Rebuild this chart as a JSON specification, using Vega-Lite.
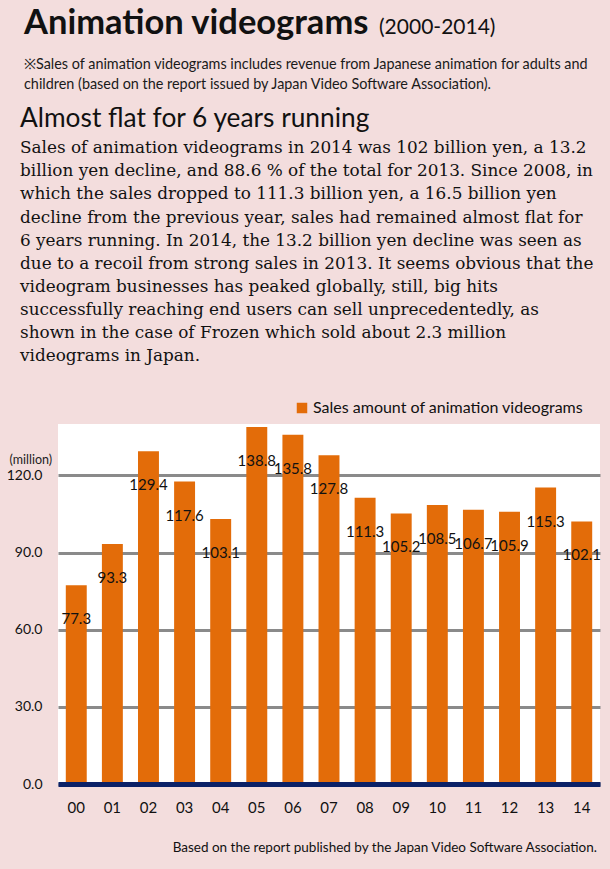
{
  "$schema": "https://vega.github.io/schema/vega-lite/v6.json",
  "background": "#f3dddd",
  "padding": {"left": 6, "top": 5, "right": 9, "bottom": 14},
  "bounds": "flush",
  "spacing": 0,
  "resolve": {"legend": {"color": "independent"}, "scale": {"color": "independent"}},
  "config": {
    "font": "Lato",
    "view": {"stroke": null}
  },
  "vconcat": [
    {
      "width": 542,
      "height": 1,
      "data": {"values": []},
      "mark": "text",
      "encoding": {},
      "title": {
        "text": "Animation videograms",
        "anchor": "start",
        "frame": "group",
        "orient": "top",
        "offset": 0,
        "dx": -34,
        "font": "Lato",
        "fontSize": 34.5,
        "fontWeight": "bold",
        "color": "#111111"
      }
    },
    {
      "width": 542,
      "height": 48,
      "data": {"values": []},
      "mark": "text",
      "encoding": {},
      "title": {
        "text": "(2000-2014)",
        "anchor": "start",
        "frame": "group",
        "orient": "top",
        "offset": 0,
        "dx": 321,
        "dy": -4,
        "font": "Lato",
        "fontSize": 21,
        "fontWeight": "normal",
        "color": "#111111"
      }
    },
    {
      "width": 542,
      "height": 274.4,
      "data": {"values": []},
      "mark": "text",
      "encoding": {},
      "title": {
        "text": [
          "※Sales of animation videograms includes revenue from Japanese animation for adults and",
          "children (based on the report issued by Japan Video Software Association)."
        ],
        "anchor": "start",
        "frame": "group",
        "orient": "top",
        "offset": 0,
        "dx": -34,
        "dy": 2,
        "font": "Lato",
        "fontSize": 14.4,
        "lineHeight": 19.5,
        "fontWeight": "normal",
        "color": "#1a1a1a"
      }
    },
    {
      "width": 542,
      "height": 58.6,
      "data": {"values": []},
      "mark": "text",
      "encoding": {},
      "title": {
        "text": "Almost flat for 6 years running",
        "subtitle": [
          "Sales of animation videograms in 2014 was 102 billion yen, a 13.2",
          "billion yen decline, and 88.6 % of the total for 2013. Since 2008, in",
          "which the sales dropped to 111.3 billion yen, a 16.5 billion yen",
          "decline from the previous year, sales had remained almost flat for",
          "6 years running. In 2014, the 13.2 billion yen decline was seen as",
          "due to a recoil from strong sales in 2013. It seems obvious that the",
          "videogram businesses has peaked globally, still, big hits",
          "successfully reaching end users can sell unprecedentedly, as",
          "shown in the case of Frozen which sold about 2.3 million",
          "videograms in Japan."
        ],
        "anchor": "start",
        "frame": "group",
        "orient": "top",
        "offset": 0,
        "dx": -38,
        "font": "Lato",
        "fontSize": 26.3,
        "fontWeight": "normal",
        "color": "#111111",
        "subtitleFont": "DejaVu Serif",
        "subtitleFontSize": 16.85,
        "subtitleLineHeight": 23.1,
        "subtitlePadding": 8.4,
        "subtitleColor": "#111111"
      }
    },
    {
      "width": 542,
      "height": 360,
      "view": {"fill": "white", "stroke": null},
      "data": {
        "values": [
          {"year": "00", "sales": 77.3},
          {"year": "01", "sales": 93.3},
          {"year": "02", "sales": 129.4},
          {"year": "03", "sales": 117.6},
          {"year": "04", "sales": 103.1},
          {"year": "05", "sales": 138.8},
          {"year": "06", "sales": 135.8},
          {"year": "07", "sales": 127.8},
          {"year": "08", "sales": 111.3},
          {"year": "09", "sales": 105.2},
          {"year": "10", "sales": 108.5},
          {"year": "11", "sales": 106.7},
          {"year": "12", "sales": 105.9},
          {"year": "13", "sales": 115.3},
          {"year": "14", "sales": 102.1}
        ]
      },
      "title": {
        "text": "Based on the report published by the Japan Video Software Association.",
        "orient": "bottom",
        "anchor": "end",
        "frame": "group",
        "offset": 26,
        "dx": -3,
        "font": "Lato",
        "fontSize": 13.5,
        "fontWeight": "normal",
        "color": "#111111"
      },
      "encoding": {
        "x": {
          "field": "year",
          "type": "ordinal",
          "sort": null,
          "scale": {"paddingInner": 0.42, "paddingOuter": 0.216},
          "axis": {
            "title": null,
            "labelAngle": 0,
            "labelFont": "Lato",
            "labelFontSize": 15,
            "labelColor": "#111111",
            "labelPadding": 16,
            "ticks": false,
            "tickSize": 0,
            "domain": true,
            "domainColor": "#0b2167",
            "domainWidth": 5,
            "grid": false,
            "zindex": 1
          }
        },
        "y": {
          "field": "sales",
          "type": "quantitative",
          "scale": {"domain": [0, 140], "nice": false},
          "axis": {
            "values": [0, 30, 60, 90, 120],
            "format": ".1f",
            "title": "(million)",
            "titleAngle": 0,
            "titleAlign": "left",
            "titleBaseline": "middle",
            "titleX": -49,
            "titleY": 35,
            "titleFont": "Lato",
            "titleFontSize": 12.5,
            "titleFontWeight": "normal",
            "titleColor": "#222222",
            "labelFont": "Lato",
            "labelFontSize": 14,
            "labelColor": "#111111",
            "labelPadding": 16,
            "ticks": false,
            "tickSize": 0,
            "domain": false,
            "grid": true,
            "gridColor": "#8a8a8a",
            "gridWidth": 3,
            "zindex": 0
          }
        }
      },
      "layer": [
        {
          "mark": {"type": "bar"},
          "encoding": {
            "color": {
              "datum": "Sales amount of animation videograms",
              "scale": {"range": ["#e36c09"]},
              "legend": {
                "orient": "none",
                "legendX": 236,
                "legendY": -24,
                "title": null,
                "symbolType": "square",
                "symbolSize": 110,
                "symbolStrokeWidth": 0,
                "labelFont": "Lato",
                "labelFontSize": 16,
                "labelColor": "#111111",
                "labelOffset": 3,
                "labelLimit": 0,
                "padding": 0
              }
            }
          }
        },
        {
          "mark": {
            "type": "text",
            "baseline": "middle",
            "align": "center",
            "dy": 34,
            "font": "Lato",
            "fontSize": 15,
            "color": "#111111"
          },
          "encoding": {
            "text": {"field": "sales", "type": "quantitative", "format": ".1f"}
          }
        }
      ]
    }
  ]
}
